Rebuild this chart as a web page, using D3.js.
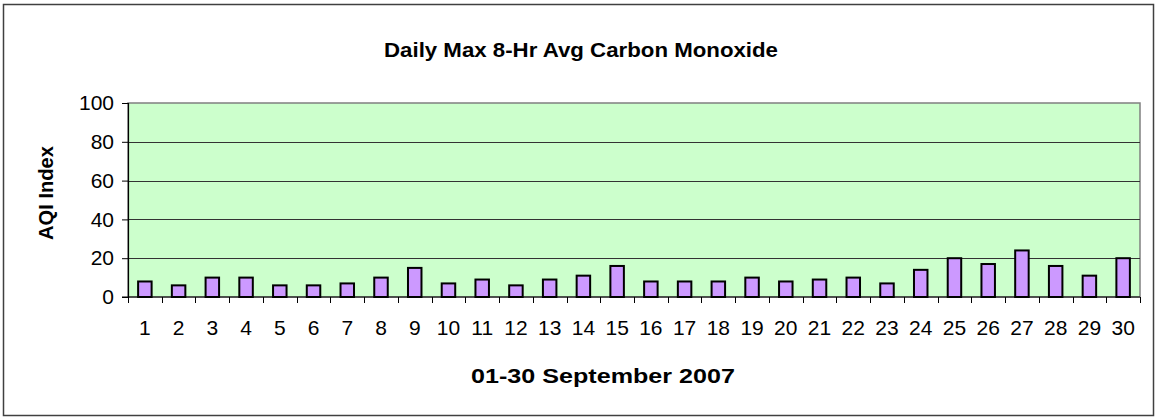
<!DOCTYPE html>
<html>
<head>
<meta charset="utf-8">
<script src="https://cdn.jsdelivr.net/npm/d3@7"></script>
<style>
  body { margin: 0; background: #fff; }
  text { font-family: Arial, "Liberation Sans", sans-serif; fill: #000; }
</style>
</head>
<body>
<div id="chart"></div>
<script>
var svgWidth = 1156;
var svgHeight = 417;

// chart data
var days = d3.range(1, 31).map(String);
var aqiValues = [8, 6, 10, 10, 6, 6, 7, 10, 15, 7, 9, 6, 9, 11, 16, 8, 8, 8, 10, 8, 9, 10, 7, 14, 20, 17, 24, 16, 11, 20];
var yTicks = [0, 20, 40, 60, 80, 100];

var chartTitle = "Daily Max 8-Hr Avg Carbon Monoxide";
var xTitle = "01-30 September 2007";
var yTitle = "AQI Index";

var margin = { top: 103, right: 16, bottom: 120, left: 128 };
var width = 1140 - margin.left;
var height = 297 - margin.top;

var svg = d3.select("#chart")
  .append("svg")
  .attr("width", svgWidth)
  .attr("height", svgHeight);

// outer frame
svg.append("rect")
  .attr("x", 3.5)
  .attr("y", 4.5)
  .attr("width", 1150)
  .attr("height", 411)
  .attr("fill", "#fff")
  .attr("stroke", "#404040")
  .attr("stroke-width", 1.5);

svg.append("text")
  .attr("x", 581)
  .attr("y", 57)
  .attr("text-anchor", "middle")
  .attr("textLength", 394)
  .attr("lengthAdjust", "spacingAndGlyphs")
  .style("font-size", "21px")
  .style("font-weight", "bold")
  .text(chartTitle);

var chartGroup = svg.append("g")
  .attr("transform", `translate(${margin.left}, ${margin.top})`);

var xBandScale = d3.scaleBand()
  .domain(days)
  .range([0, width])
  .paddingInner(0.6)
  .paddingOuter(0.3);

var yLinearScale = d3.scaleLinear()
  .domain([0, 100])
  .range([height, 0]);

// plot area
chartGroup.append("rect")
  .attr("width", width)
  .attr("height", height)
  .attr("fill", "#ccffcc")
  .attr("stroke", "#808080")
  .attr("stroke-width", 1.5);

// gridlines
chartGroup.selectAll(".grid")
  .data(yTicks.filter(d => d > 0 && d < 100))
  .enter()
  .append("line")
  .attr("x1", 0)
  .attr("x2", width)
  .attr("y1", d => Math.round(yLinearScale(d)) + 0.5)
  .attr("y2", d => Math.round(yLinearScale(d)) + 0.5)
  .attr("stroke", "#333")
  .attr("stroke-width", 1);

// bars
chartGroup.selectAll(".bar")
  .data(aqiValues)
  .enter()
  .append("rect")
  .attr("x", (d, i) => xBandScale(days[i]))
  .attr("y", d => yLinearScale(d))
  .attr("width", xBandScale.bandwidth())
  .attr("height", d => height - yLinearScale(d))
  .attr("fill", "#cc99ff")
  .attr("stroke", "#000")
  .attr("stroke-width", 2);

// y axis
var leftAxis = d3.axisLeft(yLinearScale)
  .tickValues(yTicks)
  .tickSize(6)
  .tickPadding(8);

var yAxis = chartGroup.append("g").call(leftAxis);
yAxis.select(".domain").attr("stroke", "#000").attr("stroke-width", 1.2);
yAxis.selectAll(".tick line").attr("stroke", "#000");
yAxis.selectAll("text").style("font-size", "21px").attr("fill", "#000");

// x axis: ticks between categories
var step = xBandScale.step();
var xAxis = chartGroup.append("g")
  .attr("transform", `translate(0, ${height})`);

xAxis.append("line")
  .attr("x1", -6)
  .attr("x2", width)
  .attr("y1", 0)
  .attr("y2", 0)
  .attr("stroke", "#000")
  .attr("stroke-width", 1.2);

xAxis.selectAll(".xtick")
  .data(d3.range(0, days.length + 1))
  .enter()
  .append("line")
  .attr("x1", i => Math.round(i * step) + 0.5)
  .attr("x2", i => Math.round(i * step) + 0.5)
  .attr("y1", 0)
  .attr("y2", 6)
  .attr("stroke", "#000");

xAxis.selectAll(".xlabel")
  .data(days)
  .enter()
  .append("text")
  .attr("x", d => xBandScale(d) + xBandScale.bandwidth() / 2)
  .attr("y", 38)
  .attr("text-anchor", "middle")
  .style("font-size", "21px")
  .text(d => d);

// axis titles
svg.append("text")
  .attr("x", 603)
  .attr("y", 383)
  .attr("text-anchor", "middle")
  .attr("textLength", 264)
  .attr("lengthAdjust", "spacingAndGlyphs")
  .style("font-size", "20px")
  .style("font-weight", "bold")
  .text(xTitle);

svg.append("text")
  .attr("transform", "translate(53, 193) rotate(-90)")
  .attr("text-anchor", "middle")
  .attr("textLength", 94)
  .attr("lengthAdjust", "spacingAndGlyphs")
  .style("font-size", "20px")
  .style("font-weight", "bold")
  .text(yTitle);
</script>
</body>
</html>
